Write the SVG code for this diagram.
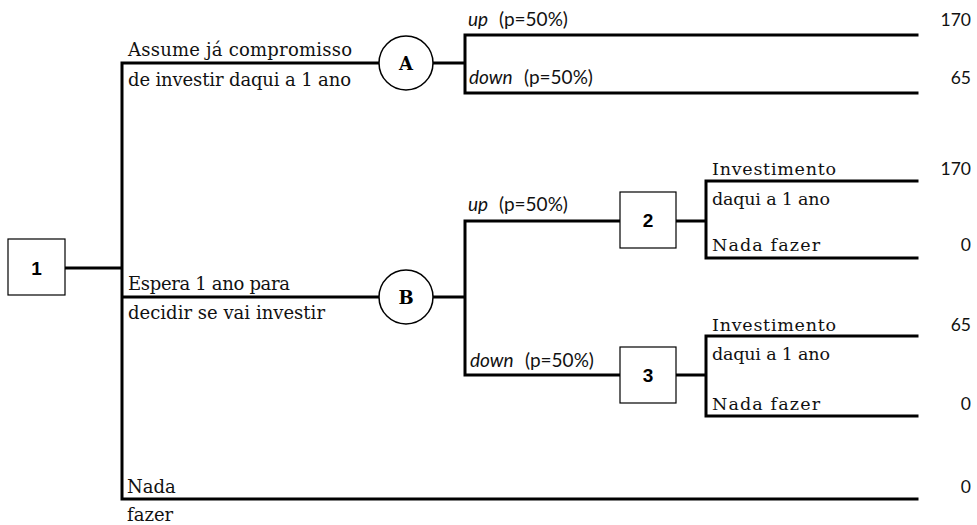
<svg xmlns="http://www.w3.org/2000/svg" width="977" height="525" viewBox="0 0 977 525">
<style>
.ln{stroke:#000;stroke-width:3;fill:none;stroke-linecap:square}
.box{fill:#fff;stroke:#000;stroke-width:1.2}
.circ{fill:#fff;stroke:#000;stroke-width:1.5}
.ser{font-family:"DejaVu Serif","Liberation Serif",serif;font-size:18px;fill:#111}
.ser2{font-family:"DejaVu Serif","Liberation Serif",serif;font-size:17.5px;fill:#111}
.sans{font-family:Lato,"Open Sans","Liberation Sans",sans-serif;font-size:19px;fill:#111}
.val{font-family:Lato,"Open Sans","Liberation Sans",sans-serif;font-size:17.5px;fill:#111;text-anchor:end}
.nodeL{font-family:"DejaVu Serif",serif;font-weight:bold;font-size:18px;text-anchor:middle;fill:#000}
.nodeN{font-family:"Liberation Sans",Arial,sans-serif;font-weight:bold;font-size:19px;text-anchor:middle;fill:#000}
</style>
<rect width="977" height="525" fill="#fff"/>
<g id="connectors">
<path class="ln" d="M65 268H122M122 63V499H917M122 63H380M122 297H380"/>
<path class="ln" d="M433 63H465M465 35V93M465 35H917M465 93H917"/>
<path class="ln" d="M433 297H465M465 221V375M465 221H620M465 375H620"/>
<path class="ln" d="M676 221H706M706 181V258M706 181H917M706 258H917"/>
<path class="ln" d="M676 375H706M706 336V416M706 336H917M706 416H917"/>
</g>
<g id="labels">
<text class="ser" x="128" y="56" textLength="224">Assume já compromisso</text>
<text class="ser" x="128" y="86" textLength="223">de investir daqui a 1 ano</text>
<text class="ser" x="128" y="290" textLength="162">Espera 1 ano para</text>
<text class="ser" x="128" y="319" textLength="197">decidir se vai investir</text>
<text class="ser" x="127" y="493">Nada</text>
<text class="ser" x="127" y="521">fazer</text>
<text class="sans" x="468" y="26"><tspan font-style="italic">up</tspan><tspan x="499">(p=50%)</tspan></text>
<text class="sans" x="469" y="84"><tspan font-style="italic">down</tspan><tspan x="524">(p=50%)</tspan></text>
<text class="sans" x="468" y="211"><tspan font-style="italic">up</tspan><tspan x="499">(p=50%)</tspan></text>
<text class="sans" x="470" y="367"><tspan font-style="italic">down</tspan><tspan x="525">(p=50%)</tspan></text>
<text class="ser2" x="712" y="175" textLength="124">Investimento</text>
<text class="ser2" x="712" y="205" textLength="118">daqui a 1 ano</text>
<text class="ser2" x="712" y="251" textLength="108">Nada fazer</text>
<text class="ser2" x="712" y="331" textLength="124">Investimento</text>
<text class="ser2" x="712" y="360" textLength="118">daqui a 1 ano</text>
<text class="ser2" x="712" y="410" textLength="108">Nada fazer</text>
<text class="val" x="971" y="26">170</text>
<text class="val" x="971" y="84">65</text>
<text class="val" x="971" y="175">170</text>
<text class="val" x="971" y="251">0</text>
<text class="val" x="971" y="331">65</text>
<text class="val" x="971" y="410">0</text>
<text class="val" x="971" y="493">0</text>
</g>
<g id="node1"><rect class="box" x="8" y="239" width="57" height="56"/><text class="nodeN" x="36.5" y="274.5">1</text></g>
<g id="nodeA"><circle class="circ" cx="406" cy="63" r="27"/><text class="nodeL" x="406" y="69.5">A</text></g>
<g id="nodeB"><circle class="circ" cx="406" cy="297" r="27"/><text class="nodeL" x="406" y="303.5">B</text></g>
<g id="node2"><rect class="box" x="620" y="192" width="56" height="56"/><text class="nodeN" x="648" y="227">2</text></g>
<g id="node3"><rect class="box" x="620" y="347" width="56" height="56"/><text class="nodeN" x="648" y="382">3</text></g>
</svg>
